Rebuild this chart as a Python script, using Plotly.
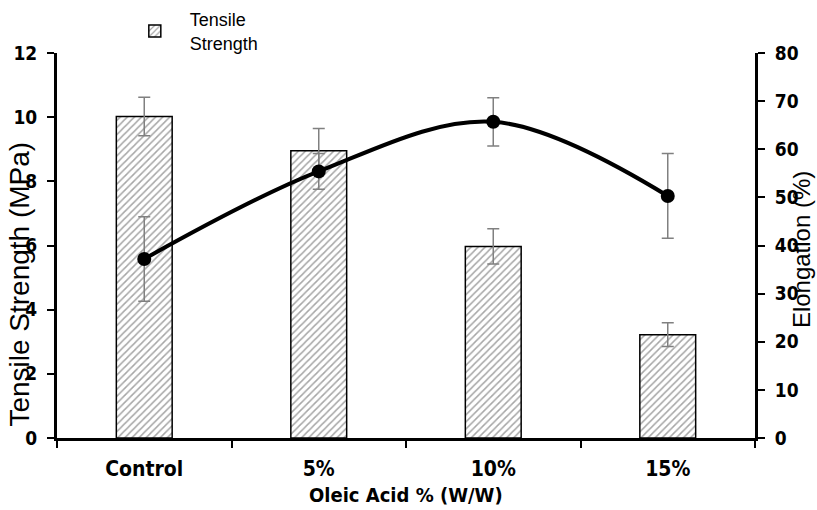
import plotly.graph_objects as go

categories = ["Control", "5%", "10%", "15%"]
tensile = [10.02, 8.95, 5.97, 3.22]
tensile_err = [0.6, 0.7, 0.55, 0.37]
elongation = [37.2, 55.4, 65.7, 50.3]
elongation_err = [8.8, 3.7, 5.0, 8.8]

yticks_left = [0, 2, 4, 6, 8, 10, 12]
yticks_right = [0, 10, 20, 30, 40, 50, 60, 70, 80]

FONT = "Liberation Sans Narrow, Arial Narrow, DejaVu Sans Condensed, sans-serif"
FONT_REG = "Liberation Sans, Arial, sans-serif"

fig = go.Figure()
fig.add_trace(go.Bar(
    x=categories, y=tensile, name="Tensile<br>Strength",
    width=0.32,
    marker=dict(color="white", line=dict(color="black", width=1.5),
                pattern=dict(shape="/", fgcolor="#4d4d4d", bgcolor="white",
                             size=5, solidity=0.3)),
    error_y=dict(type="data", array=tensile_err, color="#808080",
                 thickness=1.5, width=6),
    yaxis="y",
))
fig.add_trace(go.Scatter(
    x=categories, y=elongation, name="Elongation", showlegend=False,
    mode="lines+markers",
    line=dict(color="black", width=4, shape="spline", smoothing=1),
    marker=dict(color="black", size=14),
    error_y=dict(type="data", array=elongation_err, color="#808080",
                 thickness=1.5, width=6),
    yaxis="y2",
))

ytickfont = dict(family=FONT, size=19, color="black", weight="bold")
xtickfont = dict(family=FONT, size=21, color="black", weight="bold")
fig.update_layout(
    width=817, height=510,
    margin=dict(l=57, r=62, t=53, b=72, autoexpand=False),
    paper_bgcolor="white", plot_bgcolor="white",
    showlegend=True,
    legend=dict(x=0.09, y=1.135, xanchor="left", yanchor="top",
                itemwidth=60,
                font=dict(family=FONT_REG, size=18, color="black"),
                bgcolor="rgba(0,0,0,0)"),
    xaxis=dict(type="category", tickson="boundaries", ticks="outside",
               ticklen=7, tickwidth=1.5, tickcolor="black",
               ticklabelstandoff=10,
               showline=True, linewidth=3, linecolor="black",
               showgrid=False, tickfont=xtickfont, range=[-0.5, 3.5]),
    yaxis=dict(range=[0, 12], tickvals=yticks_left, ticks="outside",
               ticklen=7, tickwidth=1.5, tickcolor="black",
               ticklabelstandoff=6,
               showline=True, linewidth=3, linecolor="black",
               showgrid=False, zeroline=False, tickfont=ytickfont),
    yaxis2=dict(range=[0, 80], tickvals=yticks_right, overlaying="y",
                side="right", ticks="outside", ticklen=7, tickwidth=1.5,
                tickcolor="black", ticklabelstandoff=6,
                showline=True, linewidth=3,
                linecolor="black", showgrid=False, zeroline=False,
                tickfont=ytickfont),
    annotations=[
        dict(text="<b>Oleic Acid % (W/W)</b>", xref="paper", yref="paper",
             x=0.5, y=-0.148, xanchor="center", yanchor="middle",
             showarrow=False, font=dict(family=FONT, size=20, color="black")),
        dict(text="Tensile Strength (MPa)", xref="paper", yref="paper",
             x=-0.055, y=0.4, xanchor="center", yanchor="middle",
             textangle=-90, showarrow=False,
             font=dict(family=FONT_REG, size=28, color="black")),
        dict(text="Elongation (%)", xref="paper", yref="paper",
             x=1.067, y=0.49, xanchor="center", yanchor="middle",
             textangle=-90, showarrow=False,
             font=dict(family=FONT_REG, size=24, color="black")),
    ],
)
fig.write_html("out.html", config={"displayModeBar": False},
               post_script="document.body.style.margin='0';document.body.style.padding='0';")
